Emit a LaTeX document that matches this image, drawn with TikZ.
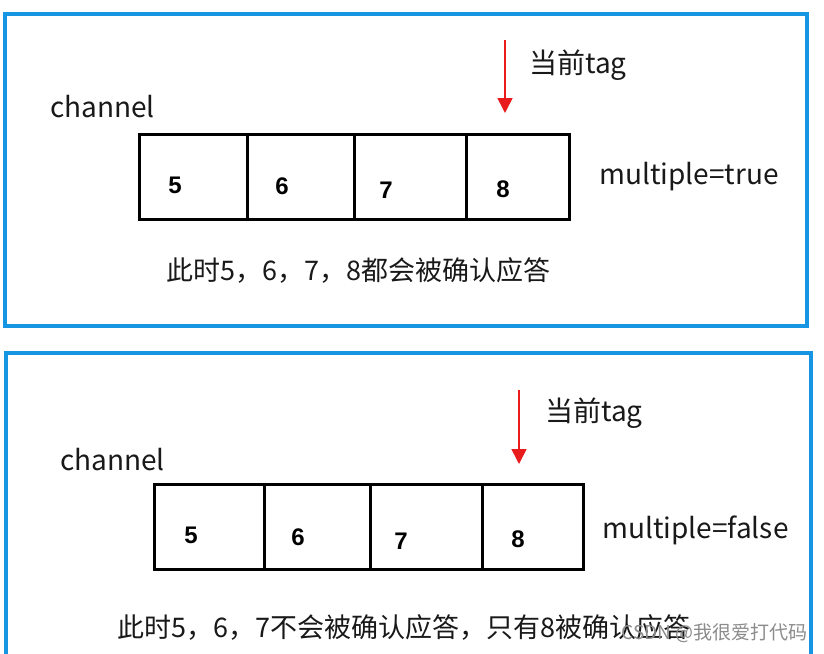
\documentclass[tikz,border=0pt]{standalone}
\usepackage{fontspec}
\setmainfont{Noto Sans CJK SC}
\newfontfamily\numfont{Liberation Sans}
\usetikzlibrary{arrows.meta}
\definecolor{frameblue}{RGB}{22,150,226}
\definecolor{tagred}{RGB}{232,28,28}
\definecolor{txt}{RGB}{25,25,25}
\tikzset{
  x=1pt, y=-1pt,
  frame/.style={draw=frameblue, line width=4pt},
  cell/.style={draw=black, line width=3pt, minimum height=85pt, inner sep=0pt, anchor=north west},
  num/.style={font=\numfont\bfseries\fontsize{24}{24}\selectfont, text=black, inner sep=0pt},
  lbl/.style={font=\fontsize{28}{28}\selectfont, text=txt, inner sep=0pt},
  sent/.style={font=\fontsize{27}{27}\selectfont, text=txt, inner sep=0pt},
  tagarrow/.style={draw=tagred, line width=1.6pt, -{Triangle[width=15pt,length=15pt]}},
  wm/.style={font=\fontsize{19}{19}\selectfont, text=black!45, inner sep=0pt}
}
\begin{document}
\begin{tikzpicture}
\useasboundingbox (0,0) rectangle (824,653);
\clip (0,0) rectangle (824,653);
\fill[white] (0,0) rectangle (824,653);
% frames
\draw[frame] (5,14) rectangle (807,326);
\draw[frame] (6,353) rectangle (811,670);
% ---- top panel ----
\node[lbl, anchor=west] (chA) at (50,107) {channel};
\node[cell, minimum width=108pt] (a1) at (138,133) {};
\node[cell, minimum width=107pt] (a2) at (246,133) {};
\node[cell, minimum width=112pt] (a3) at (353,133) {};
\node[cell, minimum width=103pt] (a4) at (465,133) {};
\node[num] (na1) at (175,185) {5};
\node[num] (na2) at (282,186) {6};
\node[num] (na3) at (386,190) {7};
\node[num] (na4) at (503,189) {8};
\coordinate (ta) at (505,40);
\coordinate (tipa) at (505,113);
\draw[tagarrow] (ta) -- (tipa);
\node[lbl, anchor=west] (taga) at (529,65) {当前tag};
\node[lbl, anchor=west] (mula) at (599,177) {multiple=true};
\node[sent, anchor=west] (resa) at (166,270) {此时5，6，7，8都会被确认应答};
% ---- bottom panel ----
\node[lbl, anchor=west] (chB) at (60,460) {channel};
\node[cell, minimum width=110pt] (b1) at (153,483) {};
\node[cell, minimum width=106pt] (b2) at (263,483) {};
\node[cell, minimum width=112pt] (b3) at (369,483) {};
\node[cell, minimum width=101pt] (b4) at (481,483) {};
\node[num] (nb1) at (191,535) {5};
\node[num] (nb2) at (298,537) {6};
\node[num] (nb3) at (401,541) {7};
\node[num] (nb4) at (518,539) {8};
\coordinate (tb) at (519,390);
\coordinate (tipb) at (519,464);
\draw[tagarrow] (tb) -- (tipb);
\node[lbl, anchor=west] (tagb) at (545,413) {当前tag};
\node[lbl, anchor=west] (mulb) at (602,530) {multiple=false};
\node[sent, anchor=west] (resb) at (117,627) {此时5，6，7不会被确认应答，只有8被确认应答};
\node[wm, anchor=east] (wmk) at (808,633) {CSDN @我很爱打代码};
\end{tikzpicture}
\end{document}
